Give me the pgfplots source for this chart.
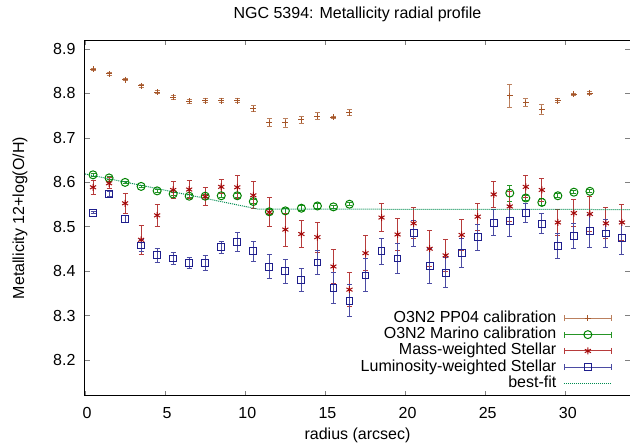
\documentclass[border=0pt]{standalone}
\usepackage{fontspec}
\setmainfont{Liberation Sans}
\usepackage{pgfplots}
\pgfplotsset{compat=1.18}
\usepackage{pgfplotstable}
\usetikzlibrary{arrows.meta}

\definecolor{ppc}{RGB}{165,85,40}
\definecolor{mac}{RGB}{0,130,0}
\definecolor{msc}{RGB}{165,10,10}
\definecolor{lwc}{RGB}{30,30,140}
\definecolor{bfc}{RGB}{0,140,80}
\colorlet{ppe}{ppc!75!white}
\colorlet{mae}{mac!85!white}
\colorlet{mse}{msc!80!white}
\colorlet{lwe}{lwc!80!white}

% error bar with caps, drawn in the given colour
\pgfplotsset{ebar/.style={error bars/.cd, y dir=both, y explicit,
  draw error bar/.code 2 args={
    \draw[#1, line width=1pt, solid] ##1 -- ##2;
    \draw[#1, line width=1pt, solid] ##2 ++(-2.5pt,0pt) -- ++(5pt,0pt);}}}

% radius, 12+log(O/H), error
\pgfplotstableread{
r z e
0.5 8.854 0.003
1.5 8.844 0.003
2.5 8.831 0.003
3.5 8.817 0.003
4.5 8.803 0.003
5.5 8.791 0.004
6.5 8.782 0.005
7.5 8.784 0.005
8.5 8.784 0.005
9.5 8.784 0.005
10.5 8.766 0.006
11.5 8.734 0.009
12.5 8.734 0.010
13.5 8.741 0.008
14.5 8.749 0.008
15.5 8.746 0.003
16.5 8.757 0.006
26.5 8.795 0.026
27.5 8.779 0.009
28.5 8.763 0.011
29.5 8.784 0.004
30.5 8.798 0.002
31.5 8.801 0.003
}\ppfour

\pgfplotstableread{
r z e
0.5 8.617 0.004
1.5 8.610 0.004
2.5 8.600 0.003
3.5 8.591 0.003
4.5 8.581 0.003
5.5 8.574 0.004
6.5 8.569 0.004
7.5 8.569 0.004
8.5 8.570 0.004
9.5 8.570 0.004
10.5 8.557 0.005
11.5 8.534 0.006
12.5 8.536 0.006
13.5 8.542 0.005
14.5 8.547 0.005
15.5 8.545 0.003
16.5 8.551 0.004
26.5 8.576 0.018
27.5 8.565 0.006
28.5 8.555 0.008
29.5 8.570 0.004
30.5 8.578 0.003
31.5 8.580 0.003
}\marino

\pgfplotstableread{
r z e
0.5 8.589 0.016
1.5 8.598 0.012
2.5 8.553 0.022
3.5 8.471 0.032
4.5 8.526 0.025
5.5 8.583 0.020
6.5 8.584 0.020
7.5 8.568 0.020
8.5 8.590 0.016
9.5 8.589 0.026
10.5 8.571 0.030
11.5 8.533 0.032
12.5 8.494 0.037
13.5 8.484 0.031
14.5 8.477 0.034
15.5 8.411 0.038
16.5 8.359 0.039
17.5 8.441 0.040
18.5 8.521 0.032
19.5 8.483 0.037
20.5 8.508 0.035
21.5 8.451 0.041
22.5 8.436 0.036
23.5 8.482 0.035
24.5 8.523 0.030
25.5 8.573 0.029
26.5 8.546 0.034
27.5 8.590 0.025
28.5 8.583 0.026
29.5 8.510 0.030
30.5 8.531 0.030
31.5 8.529 0.040
32.5 8.508 0.035
33.5 8.510 0.040
}\massw

\pgfplotstableread{
r z e
0.5 8.532 0.003
1.5 8.574 0.006
2.5 8.518 0.008
3.5 8.458 0.014
4.5 8.436 0.015
5.5 8.429 0.013
6.5 8.419 0.013
7.5 8.419 0.017
8.5 8.454 0.014
9.5 8.466 0.022
10.5 8.445 0.023
11.5 8.410 0.027
12.5 8.400 0.027
13.5 8.380 0.026
14.5 8.420 0.028
15.5 8.363 0.035
16.5 8.334 0.036
17.5 8.391 0.037
18.5 8.445 0.030
19.5 8.429 0.034
20.5 8.486 0.029
21.5 8.412 0.039
22.5 8.397 0.034
23.5 8.441 0.032
24.5 8.477 0.029
25.5 8.509 0.029
26.5 8.513 0.034
27.5 8.531 0.022
28.5 8.507 0.022
29.5 8.457 0.028
30.5 8.479 0.028
31.5 8.490 0.037
32.5 8.485 0.032
33.5 8.475 0.037
}\lumw

\begin{document}
\begin{tikzpicture}[font=\fontsize{16}{19}\selectfont]
\path[use as bounding box] (-85pt,-51pt) rectangle (545pt,396pt);
\begin{axis}[
  scale only axis, width=545pt, height=356pt,
  xmin=0, xmax=34, ymin=8.12, ymax=8.92,
  xtick={0,5,...,30}, ytick={8.2,8.3,...,8.9},
  /pgf/number format/assume math mode=true,
  tick align=inside, major tick length=5pt,
  tick style={line width=0.8pt},
  axis line style={line width=1pt},
  xticklabel style={anchor=base, yshift=-22.5pt, xshift=2pt},
  yticklabel style={xshift=-6pt, /pgf/number format/.cd, fixed, fixed zerofill, precision=1, /tikz/.cd},
  title={NGC 5394: Metallicity radial profile},
  every axis title/.style={at={(axis description cs:0.5,1.061)}, anchor=base},
  xlabel={radius (arcsec)},
  xlabel style={at={(axis description cs:0.5,-0.1208)}, anchor=base},
  ylabel={Metallicity 12+log(O/H)},
  ylabel style={at={(axis description cs:-0.1119,0.5)}, anchor=base},
  legend cell align=right, legend plot pos=right,
  legend style={at={(axis description cs:0.968,0.2416)}, anchor=north east,
    draw=none, fill=none, row sep=0pt, column sep=5pt, inner sep=0pt,
    nodes={inner ysep=0.9pt, text height=11.2pt, text depth=3.3pt}},
]
\addplot[color=ppc, only marks, mark=+, mark size=3pt, line width=0.9pt,
  legend image code/.code={
    \draw[ppe, line width=1pt, {Bar[width=6pt]}-{Bar[width=6pt]}] (0pt,0pt) -- (48pt,0pt);
    \draw[ppc, line width=0.9pt, only marks, mark=+, mark size=3pt] plot coordinates {(24pt,0pt)};},
  ebar=ppe]
  table[x=r, y=z, y error=e] {\ppfour};
\addlegendentry{O3N2 PP04 calibration}

\addplot[color=mac, only marks, mark=o, mark size=4pt, line width=1pt,
  legend image code/.code={
    \draw[mae, line width=1pt, {Bar[width=6pt]}-{Bar[width=6pt]}] (0pt,0pt) -- (48pt,0pt);
    \draw[mac, line width=1pt, only marks, mark=o, mark size=4pt] plot coordinates {(24pt,0pt)};},
  ebar=mae]
  table[x=r, y=z, y error=e] {\marino};
\addlegendentry{O3N2 Marino calibration}

\addplot[color=msc, only marks, mark=asterisk, mark size=3.5pt, line width=1pt,
  legend image code/.code={
    \draw[mse, line width=1pt, {Bar[width=6pt]}-{Bar[width=6pt]}] (0pt,0pt) -- (48pt,0pt);
    \draw[msc, line width=1pt, only marks, mark=asterisk, mark size=3.5pt] plot coordinates {(24pt,0pt)};},
  ebar=mse]
  table[x=r, y=z, y error=e] {\massw};
\addlegendentry{Mass-weighted Stellar}

\addplot[color=lwc, only marks, mark=square, mark size=3.4pt, line width=1pt,
  legend image code/.code={
    \draw[lwe, line width=1pt, {Bar[width=6pt]}-{Bar[width=6pt]}] (0pt,0pt) -- (48pt,0pt);
    \draw[lwc, line width=1pt, only marks, mark=square, mark size=3.4pt] plot coordinates {(24pt,0pt)};},
  ebar=lwe]
  table[x=r, y=z, y error=e] {\lumw};
\addlegendentry{Luminosity-weighted Stellar}

\addplot[color=bfc, densely dotted, line width=1pt, no marks,
  legend image code/.code={
    \draw[bfc, densely dotted, line width=1pt] (0pt,0pt) -- (48pt,0pt);}]
  coordinates {(0,8.619) (10.8,8.540) (34,8.539)};
\addlegendentry{best-fit}
\end{axis}
\end{tikzpicture}
\end{document}
